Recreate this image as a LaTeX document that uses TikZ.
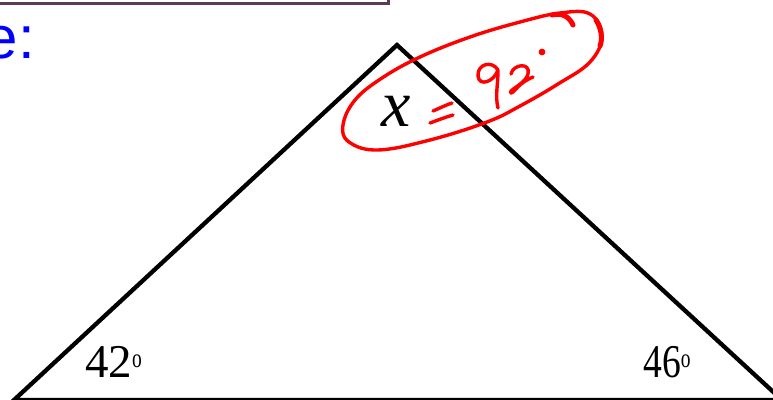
\documentclass[tikz,border=0pt]{standalone}
\usepackage{fontspec}
\setmainfont{Liberation Serif}
\newfontfamily\arialf{Liberation Sans}
\definecolor{boxpurple}{RGB}{90,60,90}
\definecolor{handred}{RGB}{255,0,0}
\tikzset{
  tri/.style={draw=black, line width=4.3pt, line join=miter},
  hand/.style={draw=handred, line width=3.4pt, line cap=round, line join=round},
  anglelab/.style={inner sep=0pt, font=\fontsize{47}{47}\selectfont},
}
\newcommand{\degmark}{\raisebox{10pt}{\scalebox{0.72}[1]{\fontsize{27}{27}\selectfont o}}}
\begin{document}
\begin{tikzpicture}[x=1pt,y=-1pt]
\useasboundingbox (0,0) rectangle (773,399);
\clip (0,0) rectangle (773,399);
% top box
\draw[draw=boxpurple, line width=3pt] (-20,-30) rectangle (388,3.5);
\node[anchor=base east, text=blue, inner sep=0pt, font=\arialf\fontsize{60}{60}\selectfont] (ex) at (35,58) {e:};
% triangle
\coordinate (A) at (14,400);
\coordinate (B) at (397,45);
\coordinate (C) at (782,400);
\draw[tri] (A) -- (B) -- (C) -- cycle;
% labels
\node[anchor=base, inner sep=0pt, font=\fontsize{66}{66}\selectfont\itshape] (xlab) at (396,126) {x};
\node[anglelab, anchor=base west] (a42) at (85,377) {42\degmark};
\node[anglelab, anchor=base west] (a46) at (643,377) {\scalebox{0.8}[1]{46}\degmark};
% handwriting
\draw[hand] plot[smooth cycle, tension=0.65] coordinates {
  (343,125) (355,100) (382,78) (420,57) (470,37) (520,22) (560,13)
  (590,14) (602,36) (590,62) (558,84) (520,106) (487,122) (430,140)
  (378,150) (349,142)};
\draw[hand, line width=5pt] (552,15) .. controls (563,12) and (570,18) .. (573,25);
\draw[hand, line width=5pt] (596,20) .. controls (601,28) and (603,38) .. (600,46);
\draw[hand] (433,111) .. controls (440,108) and (446,105) .. (452,103);
\draw[hand] (430,123) .. controls (438,120) and (446,117) .. (453,115);
\draw[hand] (498,70) .. controls (492,60) and (477,64) .. (478,76)
  .. controls (479,87) and (494,82) .. (498,70)
  .. controls (498,85) and (495,96) .. (498,108);
\draw[hand] (511,74) .. controls (513,64) and (531,62) .. (528,74)
  .. controls (526,82) and (515,87) .. (511,91)
  .. controls (509,94) and (512,94) .. (516,89)
  .. controls (521,83) and (528,79) .. (533,77);
\fill[handred] (542,52) circle (3.4);
\end{tikzpicture}
\end{document}
